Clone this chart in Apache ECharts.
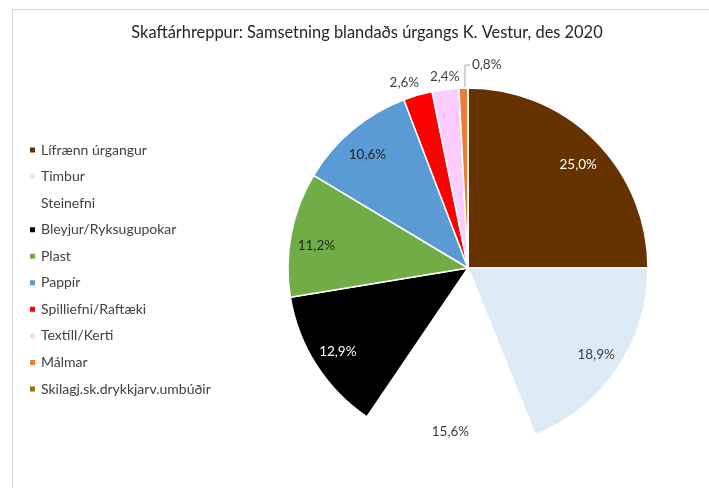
<!DOCTYPE html>
<html>
<head>
<meta charset="utf-8">
<script src="https://cdn.jsdelivr.net/npm/echarts@6/dist/echarts.min.js"></script>
<style>
html,body{margin:0;padding:0;background:#fff;}
#c{width:709px;height:488px;}
</style>
</head>
<body>
<div id="c"></div>
<script>
// ---- data ----
var titleText = 'Skaftárhreppur: Samsetning blandaðs úrgangs K. Vestur, des 2020';
var categories = ['Lífrænn úrgangur','Timbur','Steinefni','Bleyjur/Ryksugupokar','Plast','Pappír','Spilliefni/Raftæki','Textíll/Kerti','Málmar','Skilagj.sk.drykkjarv.umbúðir'];
var values = [25.0, 18.9, 15.6, 12.9, 11.2, 10.6, 2.6, 2.4, 0.8, 0.0];
var colors = ['#663300','#DDEBF7','#FFFFFF','#000000','#70AD47','#5B9BD5','#FF0000','#FFCCFF','#ED7D31','#997300'];
var labelColors = ['#FFFFFF','#404040','#404040','#FFFFFF','#262626','#262626','#404040','#404040','#404040','#404040'];

// ---- style constants ----
var FONT = 'Lato';
var CX = 468, CY = 268, R = 180;
var SMALL = 5;         // slices below this get outside labels
var LEADER = 1;        // slices below this get a leader line

var data = categories.map(function (name, i) {
  var v = values[i];
  var small = v < SMALL;
  return {
    name: name,
    value: v,
    itemStyle: { color: colors[i] },
    label: {
      show: v > 0,
      position: small ? 'outside' : 'inside',
      color: small ? '#404040' : labelColors[i]
    },
    labelLine: { show: v > 0 && small }
  };
});

var chart = echarts.init(document.getElementById('c'), null, { renderer: 'canvas' });

// mid-angle of a slice, taken from the pie layout the library computed
function sliceGeom(i) {
  var lay = null;
  try {
    lay = chart.getModel().getSeriesByIndex(0).getData().getItemLayout(i);
  } catch (e) { lay = null; }
  if (lay && lay.startAngle != null) {
    var m = (lay.startAngle + lay.endAngle) / 2;
    return { cx: lay.cx, cy: lay.cy, r: lay.r, ux: Math.cos(m), uy: Math.sin(m) };
  }
  var total = values.reduce(function (a, b) { return a + b; }, 0);
  var before = 0;
  for (var k = 0; k < i; k++) before += values[k];
  var ang = -Math.PI / 2 + (before + values[i] / 2) / total * Math.PI * 2;
  return { cx: CX, cy: CY, r: R, ux: Math.cos(ang), uy: Math.sin(ang) };
}

chart.setOption({
  backgroundColor: '#FFFFFF',
  animation: false,
  graphic: [{
    type: 'rect', z: -10, silent: true,
    shape: { x: 12.5, y: 9.5, width: 800, height: 600 },
    style: { fill: 'none', stroke: '#D9D9D9', lineWidth: 1 }
  }],
  title: {
    text: titleText,
    left: 367, top: 23, padding: 0,
    textAlign: 'center',
    textStyle: { fontFamily: FONT, fontSize: 16.4, fontWeight: 'normal', color: '#262626', lineHeight: 20 }
  },
  legend: {
    orient: 'vertical',
    left: 28, top: 143, padding: 0,
    itemWidth: 7, itemHeight: 7, itemGap: 12.56,
    icon: 'rect',
    data: categories,
    selectedMode: false,
    textStyle: { fontFamily: FONT, fontSize: 14, color: '#404040', lineHeight: 14 }
  },
  series: [{
    type: 'pie',
    center: [CX, CY],
    radius: [0, R],
    startAngle: 90,
    clockwise: true,
    avoidLabelOverlap: false,
    stillShowZeroSum: false,
    itemStyle: { borderColor: '#FFFFFF', borderWidth: 1.5 },
    label: {
      fontFamily: FONT, fontSize: 13.5,
      formatter: function (p) { return p.value.toFixed(1).replace('.', ',') + '%'; }
    },
    labelLine: { length: 20, length2: 6, lineStyle: { color: '#A6A6A6', width: 1 } },
    labelLayout: function (params) {
      var i = params.dataIndex;
      var v = values[i];
      var g = sliceGeom(i);
      var w = params.labelRect.width, h = params.labelRect.height;
      var ex = g.cx + g.r * g.ux, ey = g.cy + g.r * g.uy;   // edge point
      if (v >= SMALL) {
        // keep the label box ~6px inside the outer arc
        var inset = 6 + Math.abs(g.ux) * w / 2 + Math.abs(g.uy) * h / 2;
        return {
          x: ex - g.ux * inset,
          y: ey - g.uy * inset + (g.uy < 0 ? 7 : 0),
          align: 'center', verticalAlign: 'middle'
        };
      }
      if (v < LEADER) {
        var top = [ex + 1.5, ey - 23];
        return {
          x: top[0] + 7, y: top[1],
          align: 'left', verticalAlign: 'middle',
          labelLinePoints: [[ex + 1.5, ey], top, [top[0] + 5, top[1]]]
        };
      }
      var gap = 6;
      var align = Math.abs(g.ux) < 0.2 ? 'center' : (g.ux < 0 ? 'right' : 'left');
      return {
        x: ex + g.ux * gap + (align === 'right' ? 3 : 0),
        y: ey + g.uy * gap - 7,
        align: align, verticalAlign: 'middle',
        labelLinePoints: [[ex, ey], [ex, ey], [ex, ey]]
      };
    },
    data: data
  }]
});
</script>
</body>
</html>
